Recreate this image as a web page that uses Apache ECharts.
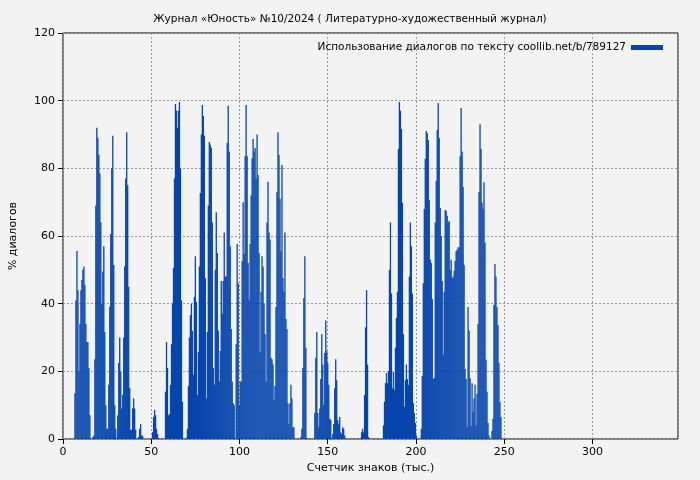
<!DOCTYPE html>
<html>
<head>
<meta charset="utf-8">
<script src="https://cdn.jsdelivr.net/npm/echarts@6/dist/echarts.min.js"></script>
<style>body{margin:0;background:#f3f3f3}#chart{width:700px;height:480px}</style>
</head>
<body>
<div id="chart"></div>
<script>
// x position of the first bar and distance between bars (thousands of chars)
var xStart = 6.77;
var xStep = 0.564;

var part1 = [13.5,41,55.6,44,20,34,44,47,50,51,45.5,34,28.7,28.7,21,7,0,0,
  0.5,1,23.6,69,92,89,84,78.5,64,40,49.5,57,31.6,10,3,3,16,39,60.6,80,89.6,51.4,10,3,0,
  7,22.5,30,20,9,13,30,51,77,90.7,75,45,15,2.7,2.7,9,12,9,2.7,0,0,0.6,3,4.4,1,1,
  0,0,0,0,0,0,0,0,0,2,6.5,8.6,7,3,1.5,0.3,0,0,0,0,0,0,
  14,28.7,21,7,7.4,16,28,40,50.5,77,99,97,92,97,99.6,80,41,11,0,0,0,
  0.3,3,15.7,30,36.6,40,32,19,42,54,40.5,13,25.7,51,72.7,90,98.7,95.5,89.6,47.6,12,
  31.6,69,87.8,87,86,64,21,16,50,67,55,32,17,26,46.7];
var part2 = [37,46.7,61,48,48,87.5,98.5,85,57,32.5,17,10.6,10,0,28,57.6,46,10,17,17,
  52.6,70,54.7,83.6,98.7,83.6,52,41,57.6,72,83,88.7,85,86,77,90,78,55,25.7,43.5,54,51,
  40,31,17,64,76,61,59,24,23.6,22,11.5,15.7,39,73,90.7,84,71,55.6,81,47.6,43.5,61,35.5,
  32.5,10.6,4.4,10.6,16,12,3.5,3.5,0,0,0,0,0,0,0.6,3,21,41.7,54,27,0.3,0,0,0,0,0,0,0,
  7.7,24,31.6,7.7,3.5,9,17.7,31,22,10,25.4,35,26,22.5,16,6,5.6,0.3,1.5,4.4,15,23.6,
  17.4,5.6,4.4,6.5,2,1.5,3.5,3,1,0,0,0,0,0,0,0,0,0,0,0,0,0,0,0,0.3,2,3,2,13,33,44,22,
  0.6,0,0];
var part3 = [0,0,0,0,0,0,0,0,0,0,0,0,4,11,16.5,19.5,16.5,20,50,64,43,15,19.8,14.5,27,
  35.8,43.5,85.7,99.6,97,91.6,69.8,31,9.5,17.4,22,17.7,16,48,64,57,43,10.6,7.7,4.7,1,
  0,0,0,0,3,18.6,46,68,82.8,91,90.4,88.4,70.6,53,52,41.4,17.7,18,64,76.3,91.3,99.3,89,
  68.3,60,46.7,25,43.5,67.7,67.4,66,64,64.4,50,53,47.6,48,49.7,52.6,55.6,56,56.7,56.7,
  83.6,97.8,85,74.5,51.4,20.7,17.7,3.5,39,32,18,3.8,16.5,8,12,16,4,13.3,34,73,93,85.7,
  69.8,68,75.9,58,23.4,14,4.7,1,0,0,2.4,6,39.6,51.7,48,39,33.7,22.5,11,6.5,0];

var values = part1.concat(part2, part3);
var seriesData = values.map(function (v, i) { return [xStart + i * xStep, v]; });

var chart = echarts.init(document.getElementById('chart'));
var font = 'DejaVu Sans';
option = {
    backgroundColor: '#f3f3f3',
    textStyle: { fontFamily: font },
    title: {
        text: 'Журнал «Юность» №10/2024 ( Литературно-художественный журнал)',
        left: 'center',
        top: 9,
        textStyle: { fontSize: 10.5, fontWeight: 'normal', color: '#000', fontFamily: font }
    },
    legend: {
        right: 32,
        top: 37,
        align: 'right',
        itemWidth: 32,
        itemHeight: 5,
        itemGap: 6,
        icon: 'rect',
        textStyle: { fontSize: 10.5, color: '#000', fontFamily: font },
        data: ['Использование диалогов по тексту coollib.net/b/789127']
    },
    grid: { left: 60, right: 22, top: 33, bottom: 41, show: true, borderColor: '#000', borderWidth: 1 },
    xAxis: {
        type: 'value',
        min: 0,
        max: 348.5,
        interval: 50,
        name: 'Счетчик знаков (тыс.)',
        nameLocation: 'middle',
        nameGap: 24,
        nameTextStyle: { fontSize: 11, color: '#000' },
        axisLine: { show: false },
        axisTick: { show: true, lineStyle: { color: '#000' } },
        axisLabel: { fontSize: 11, color: '#000', showMaxLabel: false },
        splitLine: { lineStyle: { color: '#999', type: [2, 2] } }
    },
    yAxis: {
        type: 'value',
        min: 0,
        max: 120,
        interval: 20,
        name: '% диалогов',
        nameLocation: 'middle',
        nameGap: 44,
        nameTextStyle: { fontSize: 11, color: '#000' },
        axisLine: { show: false },
        axisTick: { show: true, lineStyle: { color: '#000' } },
        axisLabel: { fontSize: 11, color: '#000' },
        splitLine: { lineStyle: { color: '#999', type: [2, 2] } }
    },
    series: [{
        name: 'Использование диалогов по тексту coollib.net/b/789127',
        type: 'bar',
        barWidth: 1.3,
        itemStyle: { color: '#0645ad' },
        animation: false,
        data: seriesData
    }]
};
chart.setOption(option);
</script>
</body>
</html>
